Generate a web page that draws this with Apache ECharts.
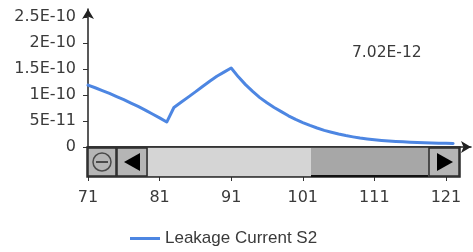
<!DOCTYPE html>
<html>
<head>
<meta charset="utf-8">
<script src="https://cdn.jsdelivr.net/npm/echarts@6/dist/echarts.min.js"></script>
<style>html,body{margin:0;padding:0;background:#fff;}#c{width:473px;height:252px;}</style>
</head>
<body>
<div id="c"></div>
<script>
// Data
const xValues = [71,72,73,74,75,76,77,78,79,80,81,82,83,84,85,86,87,88,89,90,91,92,93,94,95,96,97,98,99,100,101,102,103,104,105,106,107,108,109,110,111,112,113,114,115,116,117,118,119,120,121,122];
const leakage = [1.19e-10,1.14e-10,1.085e-10,1.03e-10,9.7e-11,9.1e-11,8.45e-11,7.8e-11,7.1e-11,6.35e-11,5.6e-11,4.8e-11,7.6e-11,8.6e-11,9.6e-11,1.06e-10,1.165e-10,1.265e-10,1.36e-10,1.44e-10,1.52e-10,1.35e-10,1.2e-10,1.07e-10,9.5e-11,8.5e-11,7.6e-11,6.8e-11,6.0e-11,5.3e-11,4.7e-11,4.15e-11,3.65e-11,3.2e-11,2.85e-11,2.5e-11,2.2e-11,1.95e-11,1.72e-11,1.55e-11,1.4e-11,1.27e-11,1.16e-11,1.07e-11,9.9e-12,9.2e-12,8.6e-12,8.1e-12,7.7e-12,7.3e-12,7.02e-12,6.8e-12];
const xTicks = [71,81,91,101,111,121];
const yTicks = [0,5e-11,1e-10,1.5e-10,2e-10,2.5e-10];
const yTickLabels = ['0','5E-11','1E-10','1.5E-10','2E-10','2.5E-10'];
const seriesName = 'Leakage Current S2';
const annotation = '7.02E-12';

const chart = echarts.init(document.getElementById('c'), null, {renderer:'canvas'});
const labelFont = {fontFamily:'DejaVu Sans', fontSize:16, color:'#3a3a3a'};
const XMIN = 71, XMAX = 124.5, YMAX = 2.655e-10;

const btnFill = '#b5b5b5', border = '#2a2a2a';
const sbTop = 147, sbBot = 177, sbL = 87, sbR = 460;

const option = {
  animation:false,
  grid:{left:88, right:2, top:9, bottom:105},
  legend:{
    left:125, top:225, icon:'rect', itemWidth:30, itemHeight:3, itemGap:10,
    textStyle:{fontFamily:'Liberation Sans', fontSize:17, color:'#3a3a3a'},
    data:[seriesName]
  },
  xAxis:[{
    type:'value', min:XMIN, max:XMAX, position:'bottom',
    axisLine:{show:true, lineStyle:{color:'#222', width:1.5}, symbol:['none','arrow'], symbolSize:[9,10]},
    axisTick:{show:false}, axisLabel:{show:false}, splitLine:{show:false}
  },{
    type:'value', min:XMIN, max:XMAX, position:'bottom', offset:30,
    axisLine:{show:false},
    axisTick:{show:true, length:4, lineStyle:{color:'#333'}, customValues:xTicks},
    axisLabel:Object.assign({margin:13, customValues:xTicks, formatter:v=>String(v)}, labelFont),
    splitLine:{show:false}
  }],
  yAxis:{
    type:'value', min:0, max:YMAX,
    axisLine:{show:true, lineStyle:{color:'#222', width:1.5}, symbol:['none','arrow'], symbolSize:[9,10]},
    axisTick:{show:true, length:5, lineStyle:{color:'#333'}, customValues:yTicks},
    axisLabel:Object.assign({margin:12, customValues:yTicks, formatter:v=>{const i=yTicks.findIndex(t=>Math.abs(t-v)<1e-15);return i>=0?yTickLabels[i]:'';}}, labelFont),
    splitLine:{show:false}
  },
  series:[{
    name:seriesName, type:'line', xAxisIndex:0, symbol:'none', smooth:false,
    lineStyle:{color:'#4d86e2', width:3, join:'round', cap:'round'}, itemStyle:{color:'#4d86e2'},
    data:xValues.map((x,i)=>[x, leakage[i]])
  }],
  graphic:[
    {type:'text', left:352, top:45, style:{text:annotation, fontFamily:'DejaVu Sans', fontSize:15.5, fill:'#3a3a3a'}},
    // scrollbar
    {type:'rect', shape:{x:sbL, y:sbTop, width:sbR-sbL, height:sbBot-sbTop}, style:{fill:'#a9a9a9', stroke:border, lineWidth:1.5}, z:10},
    {type:'rect', shape:{x:148, y:sbTop+1, width:163, height:sbBot-sbTop-2}, style:{fill:'#d5d5d5'}, z:11},
    {type:'rect', shape:{x:311, y:sbTop+1, width:117, height:sbBot-sbTop-3}, style:{fill:'#a7a7a7'}, z:11},
    {type:'line', shape:{x1:311, y1:sbBot-1, x2:428, y2:sbBot-1}, style:{stroke:'#111', lineWidth:2}, z:12},
    {type:'rect', shape:{x:sbL+1, y:sbTop+1, width:28, height:sbBot-sbTop-2}, style:{fill:btnFill, stroke:border, lineWidth:1.5}, z:12},
    {type:'circle', shape:{cx:sbL+15, cy:(sbTop+sbBot)/2, r:9}, style:{fill:'none', stroke:'#4a4a4a', lineWidth:1.5}, z:13},
    {type:'line', shape:{x1:sbL+9, y1:(sbTop+sbBot)/2, x2:sbL+21, y2:(sbTop+sbBot)/2}, style:{stroke:'#4a4a4a', lineWidth:2}, z:13},
    {type:'rect', shape:{x:117, y:sbTop+1, width:30, height:sbBot-sbTop-2}, style:{fill:btnFill, stroke:border, lineWidth:1.5}, z:12},
    {type:'polygon', shape:{points:[[124,162],[140,153],[140,171]]}, style:{fill:'#000'}, z:13},
    {type:'rect', shape:{x:429, y:sbTop+1, width:30, height:sbBot-sbTop-2}, style:{fill:btnFill, stroke:border, lineWidth:1.5}, z:12},
    {type:'polygon', shape:{points:[[453,162],[437,153],[437,171]]}, style:{fill:'#000'}, z:13}
  ]
};
chart.setOption(option);
</script>
</body>
</html>
